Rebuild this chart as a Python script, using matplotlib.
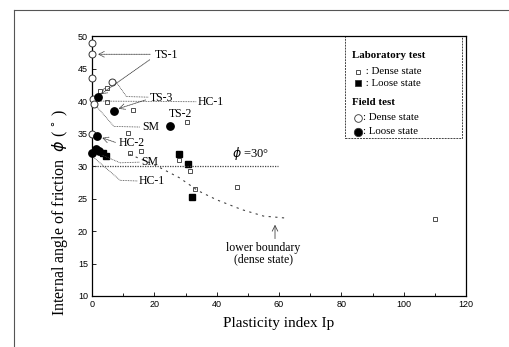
import matplotlib
matplotlib.use("Agg")
import matplotlib.pyplot as plt
from matplotlib.lines import Line2D

# ── Data ──────────────────────────────────────────────────────────────────────
lab_dense_ip  = [2.6, 4.8, 4.8, 13, 30.5, 11.5, 12, 15.7, 28, 31.5, 33, 46.5, 110]
lab_dense_phi = [41.6, 42.0, 39.8, 38.7, 36.8, 35.1, 32.0, 32.3, 30.9, 29.2, 26.4, 26.7, 21.9]

lab_loose_ip  = [28, 30.8, 32, 3.4, 4.6]
lab_loose_phi = [31.9, 30.3, 25.2, 32.0, 31.5]

field_dense_ip  = [0, 0, 0, 0.3, 0.5, 0, 6.4]
field_dense_phi = [49, 47.2, 43.5, 40.3, 39.5, 35.0, 43.0]

field_loose_ip  = [1.8, 7.0, 25.0, 1.6, 0, 1.3, 2.3]
field_loose_phi = [40.6, 38.4, 36.2, 34.7, 32.0, 32.6, 32.3]

boundary_ip  = [12, 20, 28, 34, 40, 48, 55, 62]
boundary_phi = [31.8, 30.2, 28.2, 26.2, 24.8, 23.3, 22.3, 22.0]

SERIF = "Liberation Serif"
SANS  = "Liberation Sans"

fig = plt.figure(figsize=(5.09, 3.47), dpi=100)
ax = fig.add_axes([0.181, 0.147, 0.7345, 0.749])

# scan frame lines
fig.add_artist(Line2D([0.028, 1.0], [0.97, 0.97], color="#555555", lw=0.8))
fig.add_artist(Line2D([0.028, 0.028], [0.0, 0.97], color="#555555", lw=0.8))

ax.plot(lab_dense_ip, lab_dense_phi, "s", ms=3.2, mfc="white", mec="#333333",
        mew=0.6, clip_on=False)
ax.plot(lab_loose_ip, lab_loose_phi, "s", ms=3.8, mfc="black", mec="black", clip_on=False)
ax.plot(field_dense_ip, field_dense_phi, "o", ms=5, mfc="white", mec="#333333",
        mew=0.7, zorder=3, clip_on=False)
ax.plot(field_loose_ip, field_loose_phi, "o", ms=5.3, mfc="black", mec="black",
        zorder=3, clip_on=False)

# lower boundary and phi = 30 line
ax.plot(boundary_ip, boundary_phi, ls=(0, (2, 4)), color="#444444", lw=0.8)
ax.plot([0, 59.5], [30, 30], ls=(0, (1, 1)), color="#444444", lw=0.9)
ax.text(51, 31.9, r"$\phi$ =30°", fontsize=9, family=SERIF, ha="center", va="center")

lead = dict(color="#444444", lw=0.6, ls=(0, (1, 1)))
arr = dict(arrowstyle="->", color="#444444", lw=0.6, ls=(0, (1, 1)))

def txt(x, y, s, **kw):
    ax.text(x, y, s, fontsize=8.5, family=SERIF, va="center", **kw)

# TS-1
txt(20, 47.1, "TS-1")
ax.annotate("", xy=(0.9, 47.2), xytext=(19.5, 47.2), arrowprops=arr)
ax.annotate("", xy=(2.0, 40.8), xytext=(19.2, 46.6), arrowprops=arr)
# TS-3
txt(18.5, 40.4, "TS-3")
ax.plot([7.2, 11, 18], [43.3, 40.7, 40.6], **lead)
ax.annotate("", xy=(7.6, 38.7), xytext=(18, 40.3), arrowprops=arr)
# HC-1 (upper)
txt(34, 39.9, "HC-1")
ax.plot([0.8, 33.5], [40.0, 39.9], **lead)
# SM (upper)
txt(16, 36.0, "SM")
ax.plot([1.0, 7, 15.5], [39.4, 36.1, 36.0], **lead)
# TS-2
txt(24.5, 38.0, "TS-2")
# HC-2
txt(8.5, 33.5, "HC-2")
ax.annotate("", xy=(2.3, 34.5), xytext=(8.3, 33.5), arrowprops=arr)
# SM (lower)
txt(15.8, 30.6, "SM")
ax.plot([1.6, 9, 15.3], [32.0, 30.5, 30.6], **lead)
# HC-1 (lower)
txt(15, 27.7, "HC-1")
ax.plot([0.8, 9, 14.6], [31.2, 27.8, 27.7], **lead)

# lower boundary label
ax.text(55, 17.4, "lower boundary", fontsize=8.5, family=SERIF, ha="center", va="center")
ax.text(55, 15.7, "(dense state)", fontsize=8.5, family=SERIF, ha="center", va="center")
ax.annotate("", xy=(58.7, 21.4), xytext=(58.7, 18.4),
            arrowprops=dict(arrowstyle="->", color="#444444", lw=0.6))

# legend box
ax.add_patch(plt.Rectangle((0.676, 0.608), 0.314, 0.392, transform=ax.transAxes,
                           fill=False, ec="#444444", lw=0.7, ls=(0, (2, 1))))
rows = [("Laboratory test", None, 0.927),
        (" : Dense state", ("s", "white", 3.2), 0.862),
        (" : Loose state", ("s", "black", 3.8), 0.819),
        ("Field test", None, 0.746),
        (": Dense state", ("o", "white", 5.5), 0.685),
        (": Loose state", ("o", "black", 6), 0.631)]
for label, mk, y in rows:
    if mk is None:
        ax.text(0.695, y, label, transform=ax.transAxes, fontsize=7.8,
                family=SERIF, weight="bold", va="center")
    else:
        ax.plot([0.711], [y], mk[0], ms=mk[2], mfc=mk[1], mec="#333333",
                mew=0.6, transform=ax.transAxes, clip_on=False)
        ax.text(0.724, y, label, transform=ax.transAxes, fontsize=7.8,
                family=SERIF, va="center")

ax.set_xlim(0, 120)
ax.set_ylim(10, 50)
ax.set_xticks(range(0, 121, 20))
ax.set_xticks(range(0, 121, 10), minor=True)
ax.set_yticks(range(10, 51, 5))
ax.tick_params(direction="in", length=3, width=0.6, labelsize=6.5, pad=3)
ax.tick_params(which="minor", direction="in", length=2, width=0.6)
for lab in ax.get_xticklabels() + ax.get_yticklabels():
    lab.set_family(SANS)
for s in ax.spines.values():
    s.set_linewidth(0.9)

ax.set_xlabel("Plasticity index Ip", fontsize=11, family=SERIF, labelpad=6)
ax.set_ylabel(r"Internal angle of friction  $\phi$ ( $^{\circ}$ )", fontsize=11.5,
              family=SERIF)
ax.yaxis.set_label_coords(-0.06, 0.32)

fig.savefig("out.png", dpi=100)
